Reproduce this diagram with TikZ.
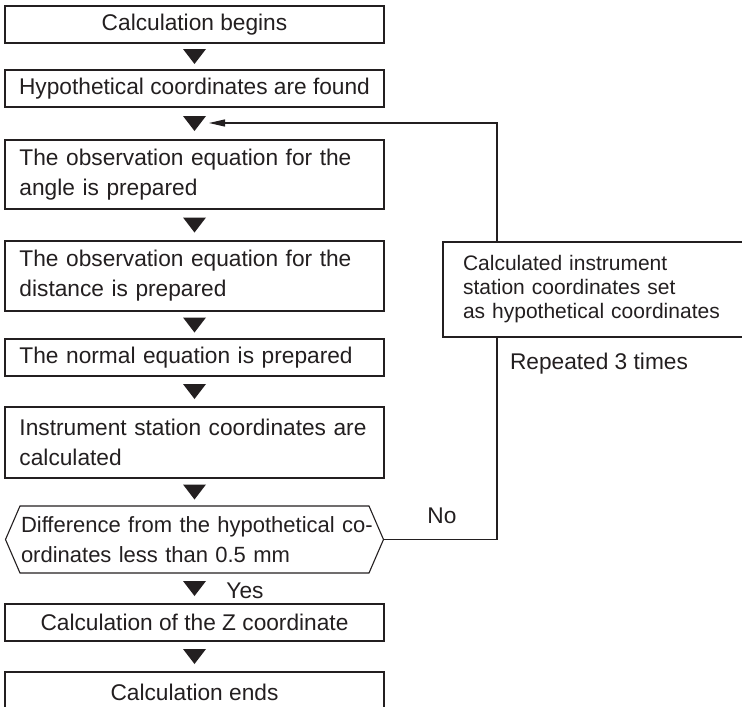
\documentclass[tikz,border=0pt]{standalone}
\usepackage{fontspec}
\setmainfont{Liberation Sans}
\usetikzlibrary{calc,arrows.meta}
\definecolor{ink}{RGB}{35,31,32}
\newcommand\downtri[2]{\fill[ink] ($(#1.south)!0.5!(#2.north)$) +(-11.5,-7.5) -- +(11.5,-7.5) -- +(0,7.5) -- cycle;}
\begin{document}
\begin{tikzpicture}[x=1pt,y=-1pt,
  every node/.style={inner sep=0pt, outer sep=0pt, text=ink},
  box/.style={draw=ink, line width=1.1pt, fill=white, minimum width=379pt, font=\fontsize{22.7}{30}\selectfont},
  onebox/.style={box, minimum height=37pt, align=center},
  twobox/.style={box, text width=350pt, inner xsep=14.5pt, align=left},
  conn/.style={draw=ink, line width=1.1pt},
  lbl/.style={font=\fontsize{22.7}{27}\selectfont}
]
\clip (0,0) rectangle (742,707);

\node[onebox] (b1) at (194.5,24.5) {Calculation begins};
\node[onebox] (b2) at (194.5,88.5) {Hypothetical coordinates are found};
\node[twobox, minimum height=69pt] (b3) at (194.5,174.5)
  {\makebox[\linewidth][s]{The observation equation for the}\\angle is prepared};
\node[twobox, minimum height=70pt] (b4) at (194.5,276)
  {\makebox[\linewidth][s]{The observation equation for the}\\distance is prepared};
\node[twobox, minimum height=37pt] (b5) at (194.5,357.5) {The normal equation is prepared};
\node[twobox, minimum height=71pt] (b6) at (194.5,442.5)
  {\makebox[\linewidth][s]{Instrument station coordinates are}\\calculated};
\node[minimum width=349pt, minimum height=67pt, text width=347pt, inner xsep=1pt, align=left,
  font=\fontsize{22}{30}\selectfont] (dec) at (194.5,539.5)
  {\makebox[\linewidth][s]{Difference from the hypothetical co-}\\ordinates less than 0.5 mm};
\coordinate (decE) at ([xshift=14.5pt]dec.east);
\coordinate (decW) at ([xshift=-14.5pt]dec.west);
\draw[conn] (dec.north west) -- (dec.north east) -- (decE) -- (dec.south east)
  -- (dec.south west) -- (decW) -- cycle;
\node[onebox] (b7) at (194.5,622.5) {Calculation of the Z coordinate};
\node[onebox, minimum height=40pt] (b8) at (194.5,692) {Calculation ends};

\downtri{b1}{b2}
\downtri{b2}{b3}
\downtri{b3}{b4}
\downtri{b4}{b5}
\downtri{b5}{b6}
\downtri{b6}{dec}
\downtri{dec}{b7}
\downtri{b7}{b8}

\coordinate (c1) at (497,539.5);
\coordinate (c2) at (497,123);
\coordinate (tip) at (209,123);
\draw[conn, -{Triangle[length=16pt,width=7pt]}] (decE) -- (c1) -- (c2) -- (tip);

\node[box, minimum width=317pt, minimum height=95pt, text width=277pt, inner xsep=20pt,
  align=left, anchor=north west, font=\fontsize{21}{24}\selectfont] (rbox) at (443,242)
  {Calculated instrument\\station coordinates set\\as hypothetical coordinates};

\node[lbl] (no) at (442,516) {No};
\node[lbl] (yes) at (245,591) {Yes};
\node[lbl, anchor=west] (rep) at (510,364) {Repeated 3 times};
\end{tikzpicture}
\end{document}
